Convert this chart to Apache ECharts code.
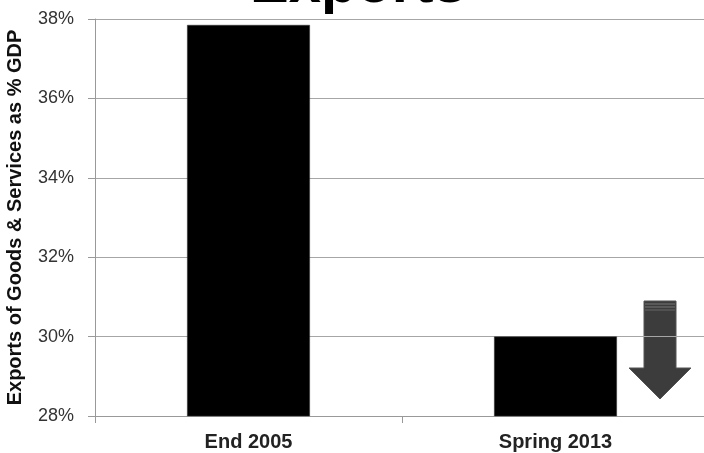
<!DOCTYPE html>
<html>
<head>
<meta charset="utf-8">
<script src="https://cdn.jsdelivr.net/npm/echarts@6/dist/echarts.min.js"></script>
<style>html,body{margin:0;padding:0;background:#fff}#c{width:704px;height:453px}</style>
</head>
<body>
<div id="c"></div>
<script>
const categories = ['End 2005', 'Spring 2013'];
const exportsPct = [37.85, 30.0];
const yMin = 28, yMax = 38, yStep = 2;
const titleText = 'Exports';
const yAxisTitle = 'Exports of Goods & Services as % GDP';

const chart = echarts.init(document.getElementById('c'), null, {renderer: 'canvas'});
chart.setOption({
  animation: false,
  backgroundColor: '#ffffff',
  title: {
    text: titleText,
    left: 250,
    top: -43,
    padding: 0,
    textStyle: {fontFamily: 'Liberation Sans, Arial, sans-serif', fontSize: 58, fontWeight: 'bold', color: '#000', lineHeight: 58}
  },
  grid: {left: 95, right: -5, top: 19, bottom: 37, containLabel: false, outerBoundsMode: 'none'},
  xAxis: {
    type: 'category',
    data: categories,
    axisLine: {lineStyle: {color: '#999', width: 1}},
    axisTick: {show: true, length: 7, lineStyle: {color: '#999'}},
    axisLabel: {margin: 16, fontFamily: 'Liberation Sans, Arial, sans-serif', fontSize: 20, fontWeight: 'bold', color: '#222'}
  },
  yAxis: {
    type: 'value',
    min: yMin, max: yMax, interval: yStep,
    name: yAxisTitle,
    nameLocation: 'middle',
    nameGap: 70,
    nameRotate: 90,
    nameTextStyle: {fontFamily: 'Liberation Sans, Arial, sans-serif', fontSize: 20, fontWeight: 'bold', color: '#111'},
    axisLine: {show: true, lineStyle: {color: '#999', width: 1}},
    axisTick: {show: true, length: 7, lineStyle: {color: '#999'}},
    axisLabel: {margin: 21, formatter: '{value}%', fontFamily: 'Liberation Sans, Arial, sans-serif', fontSize: 18, color: '#333'},
    splitLine: {lineStyle: {color: '#a6a6a6', width: 1}}
  },
  series: [{
    type: 'bar',
    data: exportsPct,
    barWidth: '40%',
    itemStyle: {color: '#000', borderColor: '#333', borderWidth: 0.5}
  }],
  graphic: [
    {type: 'polygon', shape: {points: [[644,301],[676,301],[676,368],[691,368],[660,399],[629,368],[644,368]]}, style: {fill: '#3c3c3c', stroke: '#555', lineWidth: 1}},
    {type: 'line', shape: {x1: 645, y1: 304, x2: 675, y2: 304}, style: {stroke: '#777', lineWidth: 1}},
    {type: 'line', shape: {x1: 645, y1: 307, x2: 675, y2: 307}, style: {stroke: '#777', lineWidth: 1}},
    {type: 'line', shape: {x1: 645, y1: 310, x2: 675, y2: 310}, style: {stroke: '#666', lineWidth: 1}}
  ]
});
</script>
</body>
</html>
